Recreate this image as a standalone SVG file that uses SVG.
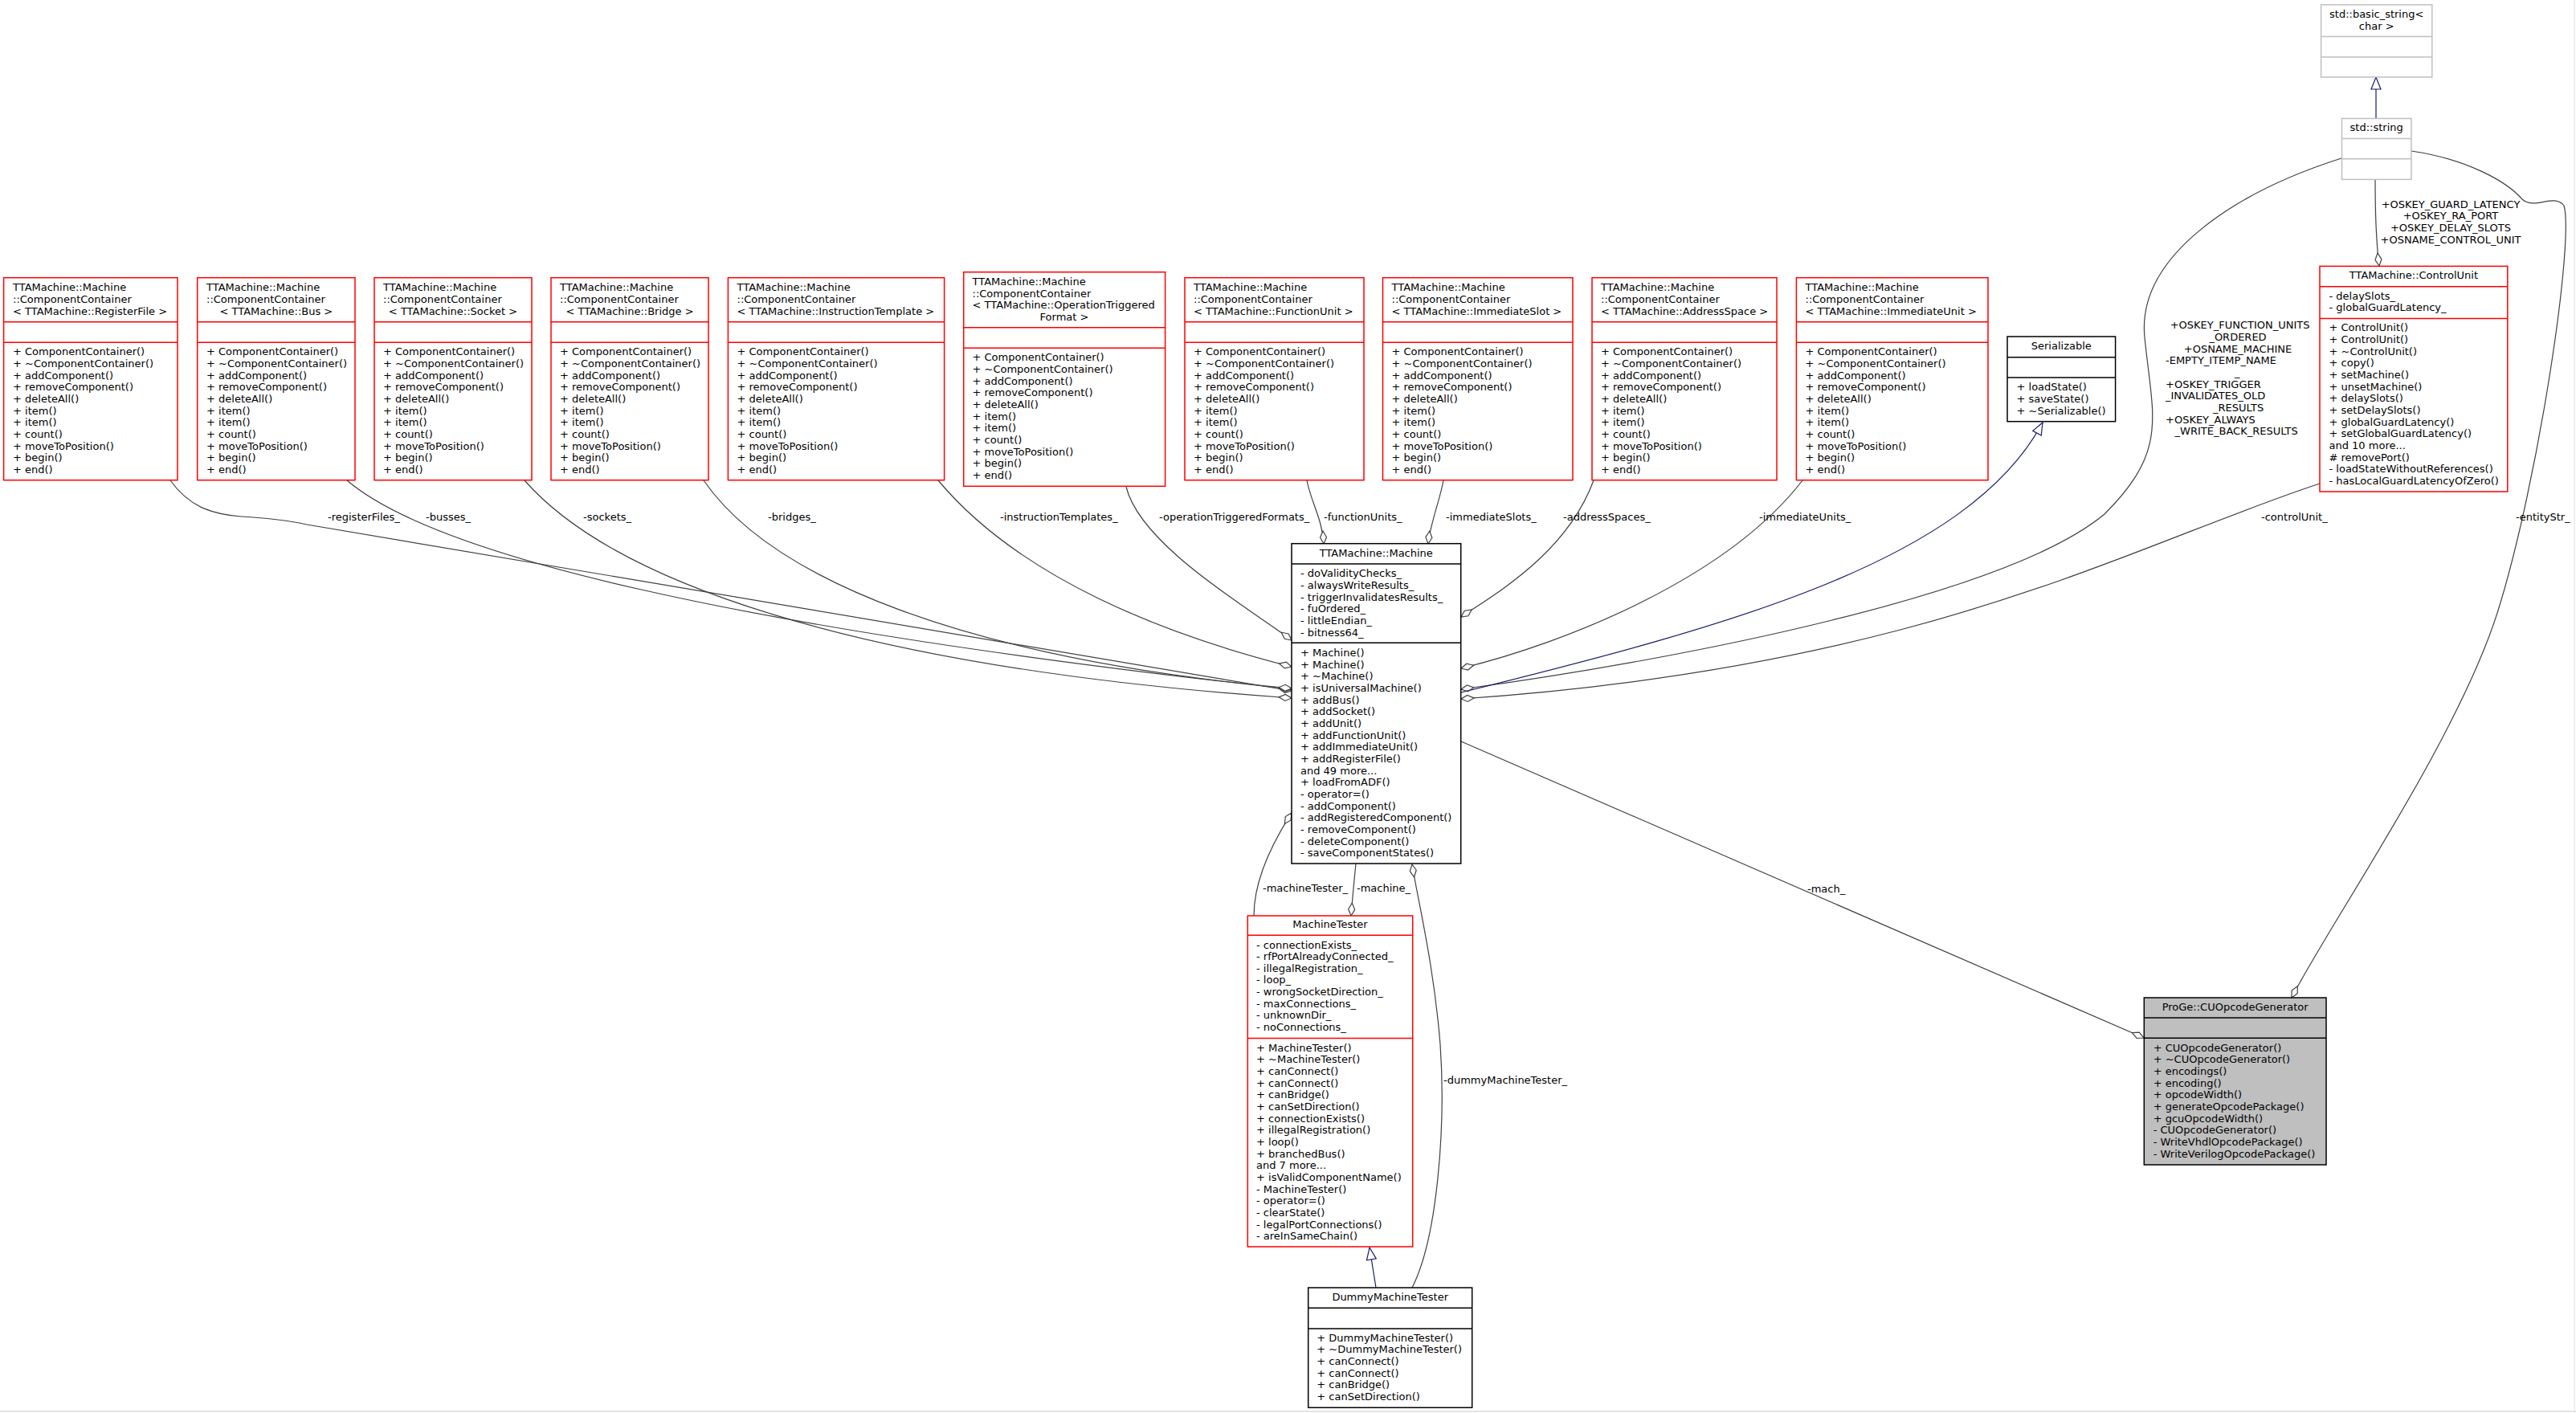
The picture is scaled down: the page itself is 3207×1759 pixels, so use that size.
<svg xmlns="http://www.w3.org/2000/svg" width="3207" height="1759" viewBox="0 0 3207 1759">
<style>
text{font-family:"DejaVu Sans","Liberation Sans",sans-serif;font-size:13px;fill:#000}
.m{text-anchor:middle}
.r{fill:#fff;stroke:#ff0000;stroke-width:1.5}
.b{fill:#fff;stroke:#000;stroke-width:1.5}
.g{fill:#fff;stroke:#bfbfbf;stroke-width:1.5}
.q{fill:#bfbfbf;stroke:#000;stroke-width:1.5}
.dr{stroke:#ff0000;stroke-width:1.5}
.db{stroke:#000;stroke-width:1.5}
.dg{stroke:#bfbfbf;stroke-width:1.5}
.e{fill:none;stroke:#404040;stroke-width:1.2;marker-end:url(#dia)}
.i{fill:none;stroke:#191970;stroke-width:1.2;marker-end:url(#tri)}
</style>
<defs>
<marker id="dia" markerUnits="userSpaceOnUse" markerWidth="20" markerHeight="12" refX="16" refY="5" orient="auto" viewBox="-1 -1 18 12"><path d="M0,5 L8,1 L16,5 L8,9 Z" fill="#fff" stroke="#404040" stroke-width="1.2"/></marker>
<marker id="tri" markerUnits="userSpaceOnUse" markerWidth="18" markerHeight="14" refX="15" refY="6" orient="auto" viewBox="-1 -1 18 14"><path d="M0,0 L15,6 L0,12 Z" fill="#fff" stroke="#191970" stroke-width="1.2"/></marker>
</defs>
<rect width="3207" height="1759" fill="#fff"/>
<line x1="0" y1="1757" x2="3207" y2="1757" stroke="#c8c8c8"/>
<line x1="3205" y1="0" x2="3205" y2="1759" stroke="#e0e0e0"/>

<g id="connectors">
<path class="e" d="M212,598 C235,630 262,640 300,643 C335,645 360,648 382,653 L1608,860"/>
<path class="e" d="M432,598 C540,690 900,780 1608,858"/>
<path class="e" d="M653,598 C760,720 1050,830 1608,869"/>
<path class="e" d="M876,598 C960,720 1200,820 1608,857"/>
<path class="e" d="M1168,598 C1270,720 1450,790 1608,830"/>
<path class="e" d="M1402,606 C1420,680 1560,760 1608,797"/>
<path class="e" d="M1627,598 C1632,625 1646,645 1648,677"/>
<path class="e" d="M1797,598 C1792,625 1781,650 1778,677"/>
<path class="e" d="M1984,598 C1950,690 1860,740 1819,768"/>
<path class="e" d="M2244,598 C2150,720 1950,800 1819,832"/>
<path class="e" d="M2915,197 C2780,240 2660,320 2670,420 C2680,520 2700,560 2620,640 C2500,740 2100,820 1819,858"/>
<path class="i" d="M1819,862 C2150,780 2450,700 2543,526"/>
<path class="e" d="M2888,602 C2650,680 2400,830 1819,870"/>
<path class="e" d="M1819,923 L2669,1292"/>
<path class="e" d="M3002,188 C3070,198 3120,225 3140,248 C3155,262 3180,240 3192,256 C3205,300 3160,600 3110,760 C3060,920 2900,1150 2853,1242"/>
<path class="e" d="M2957,224 C2957,260 2958,300 2962,331"/>
<path class="e" d="M1561,1140 C1561,1090 1590,1040 1608,1012"/>
<path class="e" d="M1688,1075 C1686,1095 1684,1115 1682,1140"/>
<path class="e" d="M1758,1603 C1790,1540 1800,1400 1793,1300 C1785,1200 1765,1120 1758,1076"/>
<path class="i" d="M1713,1603 L1705,1553"/>
<path class="i" d="M2958,147 L2958,96"/>
<text x="408" y="648">-registerFiles_</text>
<text x="530" y="648">-busses_</text>
<text x="726" y="648">-sockets_</text>
<text x="956" y="648">-bridges_</text>
<text x="1245" y="648">-instructionTemplates_</text>
<text x="1443" y="648">-operationTriggeredFormats_</text>
<text x="1648" y="648">-functionUnits_</text>
<text x="1800" y="648">-immediateSlots_</text>
<text x="1946" y="648">-addressSpaces_</text>
<text x="2190" y="648">-immediateUnits_</text>
<text x="2815" y="648">-controlUnit_</text>
<text x="3132" y="648">-entityStr_</text>
<text x="2250" y="1111">-mach_</text>
<text x="1572" y="1110">-machineTester_</text>
<text x="1689" y="1110">-machine_</text>
<text x="1797" y="1349">-dummyMachineTester_</text>
<text class="m" x="3051" y="258.5">+OSKEY_GUARD_LATENCY</text>
<text class="m" x="3051" y="273">+OSKEY_RA_PORT</text>
<text class="m" x="3051" y="288">+OSKEY_DELAY_SLOTS</text>
<text class="m" x="3051" y="303">+OSNAME_CONTROL_UNIT</text>
<text class="m" x="2788.6" y="409">+OSKEY_FUNCTION_UNITS</text>
<text class="m" x="2786" y="423.5">_ORDERED</text>
<text class="m" x="2786" y="438.5">+OSNAME_MACHINE</text>
<text x="2696" y="453">-EMPTY_ITEMP_NAME</text>
<text x="2782" y="467.5">_</text>
<text x="2696" y="482.5">+OSKEY_TRIGGER</text>
<text x="2696" y="497">_INVALIDATES_OLD</text>
<text x="2755" y="511.5">_RESULTS</text>
<text x="2696" y="526.5">+OSKEY_ALWAYS</text>
<text x="2707.6" y="540.5">_WRITE_BACK_RESULTS</text>
</g>

<g id="ccRegisterFile">
<rect class="r" x="4.6" y="345.7" width="216.4" height="252"/>
<line class="dr" x1="4.6" y1="400.7" x2="221" y2="400.7"/><line class="dr" x1="4.6" y1="426.3" x2="221" y2="426.3"/>
<text x="16" y="362.2">TTAMachine::Machine</text><text x="16" y="376.9">::ComponentContainer</text><text x="16" y="391.5">&lt; TTAMachine::RegisterFile &gt;</text>
<text x="16" y="442.2">+ ComponentContainer()</text><text x="16" y="456.9">+ ~ComponentContainer()</text><text x="16" y="471.5">+ addComponent()</text><text x="16" y="486.2">+ removeComponent()</text><text x="16" y="500.9">+ deleteAll()</text><text x="16" y="515.5">+ item()</text><text x="16" y="530.2">+ item()</text><text x="16" y="544.9">+ count()</text><text x="16" y="559.5">+ moveToPosition()</text><text x="16" y="574.2">+ begin()</text><text x="16" y="588.9">+ end()</text>
</g>
<g id="ccBus">
<rect class="r" x="245.7" y="345.7" width="196.3" height="252"/>
<line class="dr" x1="245.7" y1="400.7" x2="442" y2="400.7"/><line class="dr" x1="245.7" y1="426.3" x2="442" y2="426.3"/>
<text x="257" y="362.2">TTAMachine::Machine</text><text x="257" y="376.9">::ComponentContainer</text><text class="m" x="343.9" y="391.5">&lt; TTAMachine::Bus &gt;</text>
<text x="257" y="442.2">+ ComponentContainer()</text><text x="257" y="456.9">+ ~ComponentContainer()</text><text x="257" y="471.5">+ addComponent()</text><text x="257" y="486.2">+ removeComponent()</text><text x="257" y="500.9">+ deleteAll()</text><text x="257" y="515.5">+ item()</text><text x="257" y="530.2">+ item()</text><text x="257" y="544.9">+ count()</text><text x="257" y="559.5">+ moveToPosition()</text><text x="257" y="574.2">+ begin()</text><text x="257" y="588.9">+ end()</text>
</g>
<g id="ccSocket">
<rect class="r" x="466" y="345.7" width="196" height="252"/>
<line class="dr" x1="466" y1="400.7" x2="662" y2="400.7"/><line class="dr" x1="466" y1="426.3" x2="662" y2="426.3"/>
<text x="477" y="362.2">TTAMachine::Machine</text><text x="477" y="376.9">::ComponentContainer</text><text class="m" x="564" y="391.5">&lt; TTAMachine::Socket &gt;</text>
<text x="477" y="442.2">+ ComponentContainer()</text><text x="477" y="456.9">+ ~ComponentContainer()</text><text x="477" y="471.5">+ addComponent()</text><text x="477" y="486.2">+ removeComponent()</text><text x="477" y="500.9">+ deleteAll()</text><text x="477" y="515.5">+ item()</text><text x="477" y="530.2">+ item()</text><text x="477" y="544.9">+ count()</text><text x="477" y="559.5">+ moveToPosition()</text><text x="477" y="574.2">+ begin()</text><text x="477" y="588.9">+ end()</text>
</g>
<g id="ccBridge">
<rect class="r" x="686" y="345.7" width="196" height="252"/>
<line class="dr" x1="686" y1="400.7" x2="882" y2="400.7"/><line class="dr" x1="686" y1="426.3" x2="882" y2="426.3"/>
<text x="697" y="362.2">TTAMachine::Machine</text><text x="697" y="376.9">::ComponentContainer</text><text class="m" x="784" y="391.5">&lt; TTAMachine::Bridge &gt;</text>
<text x="697" y="442.2">+ ComponentContainer()</text><text x="697" y="456.9">+ ~ComponentContainer()</text><text x="697" y="471.5">+ addComponent()</text><text x="697" y="486.2">+ removeComponent()</text><text x="697" y="500.9">+ deleteAll()</text><text x="697" y="515.5">+ item()</text><text x="697" y="530.2">+ item()</text><text x="697" y="544.9">+ count()</text><text x="697" y="559.5">+ moveToPosition()</text><text x="697" y="574.2">+ begin()</text><text x="697" y="588.9">+ end()</text>
</g>
<g id="ccInstructionTemplate">
<rect class="r" x="906.4" y="345.7" width="269.2" height="252"/>
<line class="dr" x1="906.4" y1="400.7" x2="1175.6" y2="400.7"/><line class="dr" x1="906.4" y1="426.3" x2="1175.6" y2="426.3"/>
<text x="917.5" y="362.2">TTAMachine::Machine</text><text x="917.5" y="376.9">::ComponentContainer</text><text x="917.5" y="391.5">&lt; TTAMachine::InstructionTemplate &gt;</text>
<text x="917.5" y="442.2">+ ComponentContainer()</text><text x="917.5" y="456.9">+ ~ComponentContainer()</text><text x="917.5" y="471.5">+ addComponent()</text><text x="917.5" y="486.2">+ removeComponent()</text><text x="917.5" y="500.9">+ deleteAll()</text><text x="917.5" y="515.5">+ item()</text><text x="917.5" y="530.2">+ item()</text><text x="917.5" y="544.9">+ count()</text><text x="917.5" y="559.5">+ moveToPosition()</text><text x="917.5" y="574.2">+ begin()</text><text x="917.5" y="588.9">+ end()</text>
</g>
<g id="ccOperationTriggeredFormat">
<rect class="r" x="1199.7" y="338.7" width="250.9" height="266.6"/>
<line class="dr" x1="1199.7" y1="407.7" x2="1450.6" y2="407.7"/><line class="dr" x1="1199.7" y1="433.3" x2="1450.6" y2="433.3"/>
<text x="1210.5" y="355">TTAMachine::Machine</text><text x="1210.5" y="369.5">::ComponentContainer</text><text x="1210.5" y="384">&lt; TTAMachine::OperationTriggered</text><text class="m" x="1325" y="399">Format &gt;</text>
<text x="1210.5" y="449.2">+ ComponentContainer()</text><text x="1210.5" y="463.9">+ ~ComponentContainer()</text><text x="1210.5" y="478.5">+ addComponent()</text><text x="1210.5" y="493.2">+ removeComponent()</text><text x="1210.5" y="507.9">+ deleteAll()</text><text x="1210.5" y="522.5">+ item()</text><text x="1210.5" y="537.2">+ item()</text><text x="1210.5" y="551.9">+ count()</text><text x="1210.5" y="566.5">+ moveToPosition()</text><text x="1210.5" y="581.2">+ begin()</text><text x="1210.5" y="595.9">+ end()</text>
</g>
<g id="ccFunctionUnit">
<rect class="r" x="1475" y="345.7" width="223" height="252"/>
<line class="dr" x1="1475" y1="400.7" x2="1698" y2="400.7"/><line class="dr" x1="1475" y1="426.3" x2="1698" y2="426.3"/>
<text x="1486" y="362.2">TTAMachine::Machine</text><text x="1486" y="376.9">::ComponentContainer</text><text x="1486" y="391.5">&lt; TTAMachine::FunctionUnit &gt;</text>
<text x="1486" y="442.2">+ ComponentContainer()</text><text x="1486" y="456.9">+ ~ComponentContainer()</text><text x="1486" y="471.5">+ addComponent()</text><text x="1486" y="486.2">+ removeComponent()</text><text x="1486" y="500.9">+ deleteAll()</text><text x="1486" y="515.5">+ item()</text><text x="1486" y="530.2">+ item()</text><text x="1486" y="544.9">+ count()</text><text x="1486" y="559.5">+ moveToPosition()</text><text x="1486" y="574.2">+ begin()</text><text x="1486" y="588.9">+ end()</text>
</g>
<g id="ccImmediateSlot">
<rect class="r" x="1721.5" y="345.7" width="236.5" height="252"/>
<line class="dr" x1="1721.5" y1="400.7" x2="1958" y2="400.7"/><line class="dr" x1="1721.5" y1="426.3" x2="1958" y2="426.3"/>
<text x="1732.5" y="362.2">TTAMachine::Machine</text><text x="1732.5" y="376.9">::ComponentContainer</text><text x="1732.5" y="391.5">&lt; TTAMachine::ImmediateSlot &gt;</text>
<text x="1732.5" y="442.2">+ ComponentContainer()</text><text x="1732.5" y="456.9">+ ~ComponentContainer()</text><text x="1732.5" y="471.5">+ addComponent()</text><text x="1732.5" y="486.2">+ removeComponent()</text><text x="1732.5" y="500.9">+ deleteAll()</text><text x="1732.5" y="515.5">+ item()</text><text x="1732.5" y="530.2">+ item()</text><text x="1732.5" y="544.9">+ count()</text><text x="1732.5" y="559.5">+ moveToPosition()</text><text x="1732.5" y="574.2">+ begin()</text><text x="1732.5" y="588.9">+ end()</text>
</g>
<g id="ccAddressSpace">
<rect class="r" x="1982" y="345.7" width="230" height="252"/>
<line class="dr" x1="1982" y1="400.7" x2="2212" y2="400.7"/><line class="dr" x1="1982" y1="426.3" x2="2212" y2="426.3"/>
<text x="1993" y="362.2">TTAMachine::Machine</text><text x="1993" y="376.9">::ComponentContainer</text><text x="1993" y="391.5">&lt; TTAMachine::AddressSpace &gt;</text>
<text x="1993" y="442.2">+ ComponentContainer()</text><text x="1993" y="456.9">+ ~ComponentContainer()</text><text x="1993" y="471.5">+ addComponent()</text><text x="1993" y="486.2">+ removeComponent()</text><text x="1993" y="500.9">+ deleteAll()</text><text x="1993" y="515.5">+ item()</text><text x="1993" y="530.2">+ item()</text><text x="1993" y="544.9">+ count()</text><text x="1993" y="559.5">+ moveToPosition()</text><text x="1993" y="574.2">+ begin()</text><text x="1993" y="588.9">+ end()</text>
</g>
<g id="ccImmediateUnit">
<rect class="r" x="2236.4" y="345.7" width="238.6" height="252"/>
<line class="dr" x1="2236.4" y1="400.7" x2="2475" y2="400.7"/><line class="dr" x1="2236.4" y1="426.3" x2="2475" y2="426.3"/>
<text x="2247.5" y="362.2">TTAMachine::Machine</text><text x="2247.5" y="376.9">::ComponentContainer</text><text x="2247.5" y="391.5">&lt; TTAMachine::ImmediateUnit &gt;</text>
<text x="2247.5" y="442.2">+ ComponentContainer()</text><text x="2247.5" y="456.9">+ ~ComponentContainer()</text><text x="2247.5" y="471.5">+ addComponent()</text><text x="2247.5" y="486.2">+ removeComponent()</text><text x="2247.5" y="500.9">+ deleteAll()</text><text x="2247.5" y="515.5">+ item()</text><text x="2247.5" y="530.2">+ item()</text><text x="2247.5" y="544.9">+ count()</text><text x="2247.5" y="559.5">+ moveToPosition()</text><text x="2247.5" y="574.2">+ begin()</text><text x="2247.5" y="588.9">+ end()</text>
</g>
<g id="serializable">
<rect class="b" x="2499" y="419" width="134.6" height="105.7"/>
<line class="db" x1="2499" y1="444.7" x2="2633.6" y2="444.7"/><line class="db" x1="2499" y1="470" x2="2633.6" y2="470"/>
<text class="m" x="2566.3" y="434.8">Serializable</text>
<text x="2510.5" y="486.2">+ loadState()</text><text x="2510.5" y="500.9">+ saveState()</text><text x="2510.5" y="515.5">+ ~Serializable()</text>
</g>
<g id="basicString">
<rect class="g" x="2889.6" y="5.9" width="138.2" height="90.1"/>
<line class="dg" x1="2889.6" y1="45.5" x2="3027.8" y2="45.5"/><line class="dg" x1="2889.6" y1="71" x2="3027.8" y2="71"/>
<text class="m" x="2958.7" y="22">std::basic_string&lt;</text><text class="m" x="2958.7" y="37">char &gt;</text>
</g>
<g id="stdString">
<rect class="g" x="2915.5" y="147.5" width="86.4" height="75.9"/>
<line class="dg" x1="2915.5" y1="172.4" x2="3001.9" y2="172.4"/><line class="dg" x1="2915.5" y1="197.7" x2="3001.9" y2="197.7"/>
<text class="m" x="2958.7" y="163">std::string</text>
</g>
<g id="controlUnit">
<rect class="r" x="2888" y="331.4" width="233.8" height="280.6"/>
<line class="dr" x1="2888" y1="356.7" x2="3121.8" y2="356.7"/><line class="dr" x1="2888" y1="396.6" x2="3121.8" y2="396.6"/>
<text class="m" x="3004.9" y="346.5">TTAMachine::ControlUnit</text>
<text x="2899.5" y="372.5">- delaySlots_</text><text x="2899.5" y="387">- globalGuardLatency_</text>
<text x="2899.5" y="412.3">+ ControlUnit()</text><text x="2899.5" y="427">+ ControlUnit()</text><text x="2899.5" y="441.6">+ ~ControlUnit()</text><text x="2899.5" y="456.3">+ copy()</text><text x="2899.5" y="471">+ setMachine()</text><text x="2899.5" y="485.6">+ unsetMachine()</text><text x="2899.5" y="500.3">+ delaySlots()</text><text x="2899.5" y="515">+ setDelaySlots()</text><text x="2899.5" y="529.7">+ globalGuardLatency()</text><text x="2899.5" y="544.3">+ setGlobalGuardLatency()</text><text x="2899.5" y="559">and 10 more...</text><text x="2899.5" y="573.7">#  removePort()</text><text x="2899.5" y="588.3">- loadStateWithoutReferences()</text><text x="2899.5" y="603">- hasLocalGuardLatencyOfZero()</text>
</g>
<g id="machine">
<rect class="b" x="1608" y="676.7" width="210.7" height="398.3"/>
<line class="db" x1="1608" y1="702" x2="1818.7" y2="702"/><line class="db" x1="1608" y1="800.3" x2="1818.7" y2="800.3"/>
<text class="m" x="1713.3" y="693">TTAMachine::Machine</text>
<text x="1619" y="718.2">- doValidityChecks_</text><text x="1619" y="732.9">- alwaysWriteResults_</text><text x="1619" y="747.5">- triggerInvalidatesResults_</text><text x="1619" y="762.2">- fuOrdered_</text><text x="1619" y="776.9">- littleEndian_</text><text x="1619" y="791.5">- bitness64_</text>
<text x="1619" y="816.8">+ Machine()</text><text x="1619" y="831.5">+ Machine()</text><text x="1619" y="846.1">+ ~Machine()</text><text x="1619" y="860.8">+ isUniversalMachine()</text><text x="1619" y="875.5">+ addBus()</text><text x="1619" y="890.1">+ addSocket()</text><text x="1619" y="904.8">+ addUnit()</text><text x="1619" y="919.5">+ addFunctionUnit()</text><text x="1619" y="934.2">+ addImmediateUnit()</text><text x="1619" y="948.8">+ addRegisterFile()</text><text x="1619" y="963.5">and 49 more...</text><text x="1619" y="978.2">+ loadFromADF()</text><text x="1619" y="992.8">- operator=()</text><text x="1619" y="1007.5">- addComponent()</text><text x="1619" y="1022.2">- addRegisteredComponent()</text><text x="1619" y="1036.8">- removeComponent()</text><text x="1619" y="1051.5">- deleteComponent()</text><text x="1619" y="1066.2">- saveComponentStates()</text>
</g>
<g id="machineTester">
<rect class="r" x="1553.3" y="1140" width="205.4" height="412"/>
<line class="dr" x1="1553.3" y1="1164.3" x2="1758.7" y2="1164.3"/><line class="dr" x1="1553.3" y1="1292.5" x2="1758.7" y2="1292.5"/>
<text class="m" x="1656" y="1155">MachineTester</text>
<text x="1564" y="1180.5">- connectionExists_</text><text x="1564" y="1195.1">- rfPortAlreadyConnected_</text><text x="1564" y="1209.8">- illegalRegistration_</text><text x="1564" y="1224.4">- loop_</text><text x="1564" y="1239.1">- wrongSocketDirection_</text><text x="1564" y="1253.7">- maxConnections_</text><text x="1564" y="1268.3">- unknownDir_</text><text x="1564" y="1283">- noConnections_</text>
<text x="1564" y="1308.5">+ MachineTester()</text><text x="1564" y="1323.2">+ ~MachineTester()</text><text x="1564" y="1337.8">+ canConnect()</text><text x="1564" y="1352.5">+ canConnect()</text><text x="1564" y="1367.2">+ canBridge()</text><text x="1564" y="1381.8">+ canSetDirection()</text><text x="1564" y="1396.5">+ connectionExists()</text><text x="1564" y="1411.2">+ illegalRegistration()</text><text x="1564" y="1425.9">+ loop()</text><text x="1564" y="1440.5">+ branchedBus()</text><text x="1564" y="1455.2">and 7 more...</text><text x="1564" y="1469.9">+ isValidComponentName()</text><text x="1564" y="1484.5">- MachineTester()</text><text x="1564" y="1499.2">- operator=()</text><text x="1564" y="1513.9">- clearState()</text><text x="1564" y="1528.5">- legalPortConnections()</text><text x="1564" y="1543.2">- areInSameChain()</text>
</g>
<g id="dummyMachineTester">
<rect class="b" x="1628.7" y="1603" width="204" height="149.3"/>
<line class="db" x1="1628.7" y1="1628.3" x2="1832.7" y2="1628.3"/><line class="db" x1="1628.7" y1="1654" x2="1832.7" y2="1654"/>
<text class="m" x="1730.7" y="1618.5">DummyMachineTester</text>
<text x="1639.3" y="1669.5">+ DummyMachineTester()</text><text x="1639.3" y="1684.2">+ ~DummyMachineTester()</text><text x="1639.3" y="1698.8">+ canConnect()</text><text x="1639.3" y="1713.5">+ canConnect()</text><text x="1639.3" y="1728.2">+ canBridge()</text><text x="1639.3" y="1742.8">+ canSetDirection()</text>
</g>
<g id="cuOpcodeGenerator">
<rect class="q" x="2669.3" y="1242" width="226.7" height="208"/>
<line class="db" x1="2669.3" y1="1267" x2="2896" y2="1267"/><line class="db" x1="2669.3" y1="1292.3" x2="2896" y2="1292.3"/>
<text class="m" x="2782.6" y="1258">ProGe::CUOpcodeGenerator</text>
<text x="2680.7" y="1308.5">+ CUOpcodeGenerator()</text><text x="2680.7" y="1323.2">+ ~CUOpcodeGenerator()</text><text x="2680.7" y="1337.8">+ encodings()</text><text x="2680.7" y="1352.5">+ encoding()</text><text x="2680.7" y="1367.2">+ opcodeWidth()</text><text x="2680.7" y="1381.8">+ generateOpcodePackage()</text><text x="2680.7" y="1396.5">+ gcuOpcodeWidth()</text><text x="2680.7" y="1411.2">- CUOpcodeGenerator()</text><text x="2680.7" y="1425.9">- WriteVhdlOpcodePackage()</text><text x="2680.7" y="1440.5">- WriteVerilogOpcodePackage()</text>
</g>
</svg>
